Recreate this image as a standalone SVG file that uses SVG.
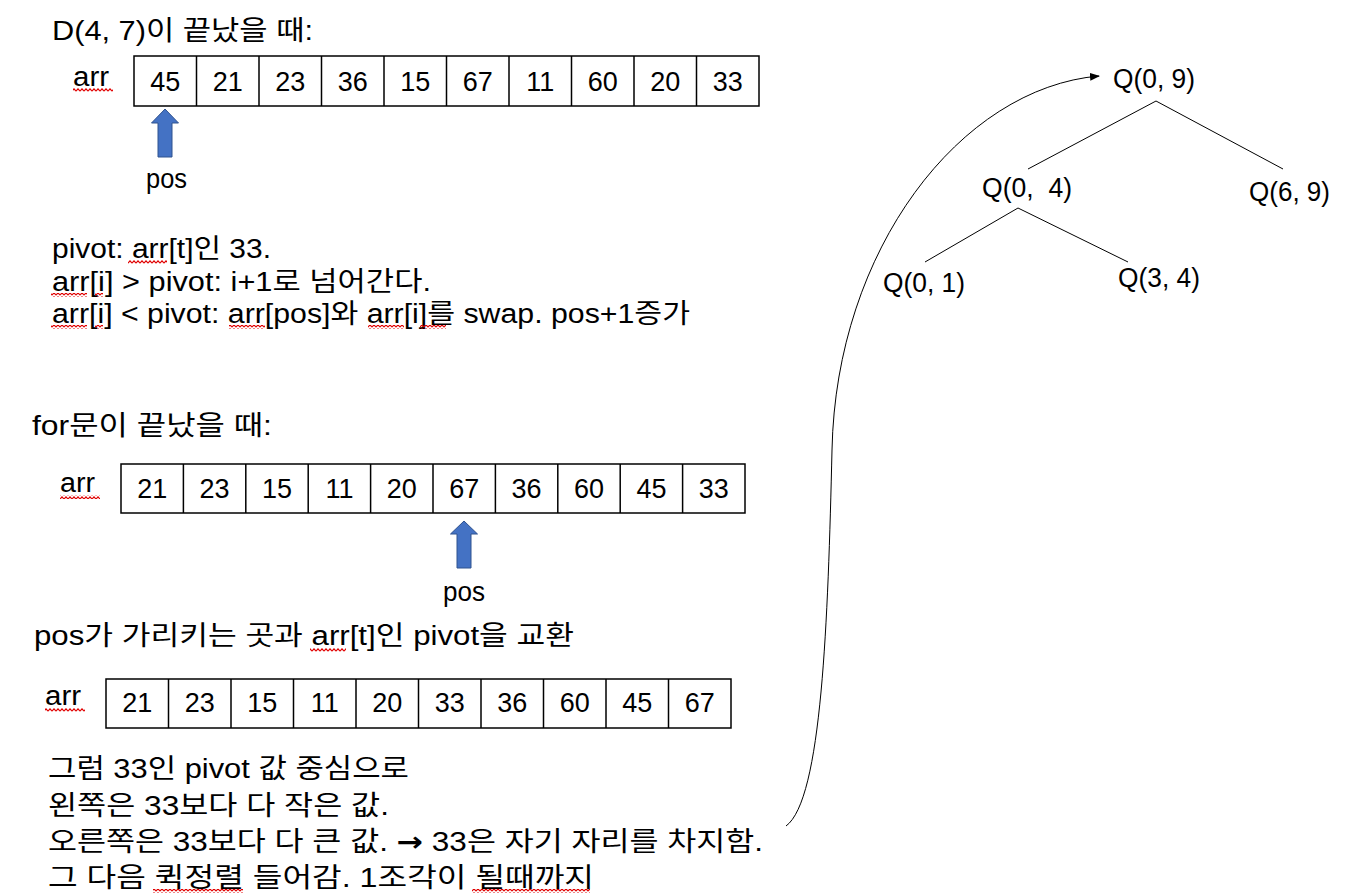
<svg xmlns="http://www.w3.org/2000/svg" width="1348" height="896" viewBox="0 0 1348 896">
<style>
text{font-family:"Liberation Sans","Noto Sans CJK KR",sans-serif;font-size:27px;fill:#000}
.c{text-anchor:middle}
.cell{fill:#fff;stroke:#000;stroke-width:1.5}
.div{stroke:#000;stroke-width:1.5;fill:none}
.blk{fill:#4472C4;stroke:#2F528F;stroke-width:1}
.edge{stroke:#000;stroke-width:1;fill:none}
.sq{fill:url(#squig)}
</style>
<defs>
<pattern id="squig" patternUnits="userSpaceOnUse" width="4" height="4">
<path d="M0,3.2 L2,0.8 L4,3.2" stroke="#e00000" stroke-width="1.1" fill="none"/>
</pattern>
<marker id="ah" markerUnits="userSpaceOnUse" markerWidth="10" markerHeight="8" refX="9" refY="4" orient="auto">
<path d="M0,0 L10,4 L0,8 z" fill="#000"/>
</marker>
</defs>
<rect width="1348" height="896" fill="#fff"/>

<g id="title1"><text x="52" y="40" textLength="261" lengthAdjust="spacingAndGlyphs">D(4, 7)이 끝났을 때:</text></g>

<g id="array1">
<text x="73" y="86" textLength="36" lengthAdjust="spacingAndGlyphs">arr</text>
<rect class="cell" x="134" y="56" width="625" height="50"/>
<path class="div" d="M196.5,56V106M259,56V106M321.5,56V106M384,56V106M446.5,56V106M509,56V106M571.5,56V106M634,56V106M696.5,56V106"/>
<text class="c" x="165.3" y="91">45</text><text class="c" x="227.8" y="91">21</text><text class="c" x="290.3" y="91">23</text><text class="c" x="352.8" y="91">36</text><text class="c" x="415.3" y="91">15</text><text class="c" x="477.8" y="91">67</text><text class="c" x="540.3" y="91">11</text><text class="c" x="602.8" y="91">60</text><text class="c" x="665.3" y="91">20</text><text class="c" x="727.8" y="91">33</text>
</g>

<g id="pos1">
<polygon class="blk" points="165,109 178.5,123 172,123 172,157 158,157 158,123 151.5,123"/>
<text x="146" y="188" textLength="41" lengthAdjust="spacingAndGlyphs">pos</text>
</g>

<g id="rules">
<text x="52" y="258" textLength="219" lengthAdjust="spacingAndGlyphs">pivot: arr[t]인 33.</text>
<text x="52" y="291" textLength="379" lengthAdjust="spacingAndGlyphs">arr[i] &gt; pivot: i+1로 넘어간다.</text>
<text x="52" y="323" textLength="638" lengthAdjust="spacingAndGlyphs">arr[i] &lt; pivot: arr[pos]와 arr[i]를 swap. pos+1증가</text>
</g>

<g id="title2"><text x="32" y="435" textLength="240" lengthAdjust="spacingAndGlyphs">for문이 끝났을 때:</text></g>

<g id="array2">
<text x="60" y="492" textLength="35" lengthAdjust="spacingAndGlyphs">arr</text>
<rect class="cell" x="121" y="464" width="624" height="49"/>
<path class="div" d="M183.4,464V513M245.8,464V513M308.2,464V513M370.6,464V513M433,464V513M495.4,464V513M557.8,464V513M620.2,464V513M682.6,464V513"/>
<text class="c" x="152.2" y="498">21</text><text class="c" x="214.6" y="498">23</text><text class="c" x="277" y="498">15</text><text class="c" x="339.4" y="498">11</text><text class="c" x="401.8" y="498">20</text><text class="c" x="464.2" y="498">67</text><text class="c" x="526.6" y="498">36</text><text class="c" x="589" y="498">60</text><text class="c" x="651.4" y="498">45</text><text class="c" x="713.8" y="498">33</text>
</g>

<g id="pos2">
<polygon class="blk" points="464,521 477.5,534 471,534 471,568 457,568 457,534 450.5,534"/>
<text x="443" y="601" textLength="42" lengthAdjust="spacingAndGlyphs">pos</text>
</g>

<g id="swaptext"><text x="34" y="645" textLength="540" lengthAdjust="spacingAndGlyphs">pos가 가리키는 곳과 arr[t]인 pivot을 교환</text></g>

<g id="array3">
<text x="45" y="705" textLength="36" lengthAdjust="spacingAndGlyphs">arr</text>
<rect class="cell" x="106" y="679" width="625" height="49"/>
<path class="div" d="M168.5,679V728M231,679V728M293.5,679V728M356,679V728M418.5,679V728M481,679V728M543.5,679V728M606,679V728M668.5,679V728"/>
<text class="c" x="137.3" y="712">21</text><text class="c" x="199.8" y="712">23</text><text class="c" x="262.3" y="712">15</text><text class="c" x="324.8" y="712">11</text><text class="c" x="387.3" y="712">20</text><text class="c" x="449.8" y="712">33</text><text class="c" x="512.3" y="712">36</text><text class="c" x="574.8" y="712">60</text><text class="c" x="637.3" y="712">45</text><text class="c" x="699.8" y="712">67</text>
</g>

<g id="summary">
<text x="48" y="778" textLength="361" lengthAdjust="spacingAndGlyphs">그럼 33인 pivot 값 중심으로</text>
<text x="48" y="815" textLength="341" lengthAdjust="spacingAndGlyphs">왼쪽은 33보다 다 작은 값.</text>
<text x="48" y="851" textLength="715" lengthAdjust="spacingAndGlyphs">오른쪽은 33보다 다 큰 값. <tspan font-weight="bold" font-family="DejaVu Sans, sans-serif">→</tspan> 33은 자기 자리를 차지함.</text>
<text x="48" y="887" textLength="546" lengthAdjust="spacingAndGlyphs">그 다음 퀵정렬 들어감. 1조각이 될때까지</text>
</g>

<g id="spellmarks">
<rect class="sq" x="73" y="88" width="40" height="4"/>
<rect class="sq" x="60" y="495" width="40" height="4"/>
<rect class="sq" x="45" y="708" width="40" height="4"/>
<rect class="sq" x="128" y="260" width="39" height="4"/>
<rect class="sq" x="51" y="293" width="36" height="4"/>
<rect class="sq" x="95" y="293" width="8" height="4"/>
<rect class="sq" x="51" y="325" width="36" height="4"/>
<rect class="sq" x="95" y="325" width="8" height="4"/>
<rect class="sq" x="229" y="325" width="36" height="4"/>
<rect class="sq" x="368" y="325" width="36" height="4"/>
<rect class="sq" x="420" y="325" width="26" height="4"/>
<rect class="sq" x="310" y="648" width="36" height="4"/>
<rect class="sq" x="153" y="889" width="90" height="4"/>
<rect class="sq" x="472" y="889" width="118" height="4"/>
</g>

<g id="Q09"><text x="1113" y="88" textLength="82" lengthAdjust="spacingAndGlyphs">Q(0, 9)</text></g>
<g id="Q04"><text x="982" y="197" textLength="90" lengthAdjust="spacingAndGlyphs" xml:space="preserve">Q(0,  4)</text></g>
<g id="Q69"><text x="1249" y="201" textLength="81" lengthAdjust="spacingAndGlyphs">Q(6, 9)</text></g>
<g id="Q01"><text x="883" y="292" textLength="82" lengthAdjust="spacingAndGlyphs">Q(0, 1)</text></g>
<g id="Q34"><text x="1118" y="287" textLength="82" lengthAdjust="spacingAndGlyphs">Q(3, 4)</text></g>

<g id="connectors">
<path class="edge" d="M1156,101 L1028,169"/>
<path class="edge" d="M1156,101 L1283,169"/>
<path class="edge" d="M1018,208 L925,262"/>
<path class="edge" d="M1018,208 L1128,262"/>
<path class="edge" d="M786,826 C822,800 828,620 832,450 C836,250 960,88 1099,76" marker-end="url(#ah)"/>
</g>
</svg>
